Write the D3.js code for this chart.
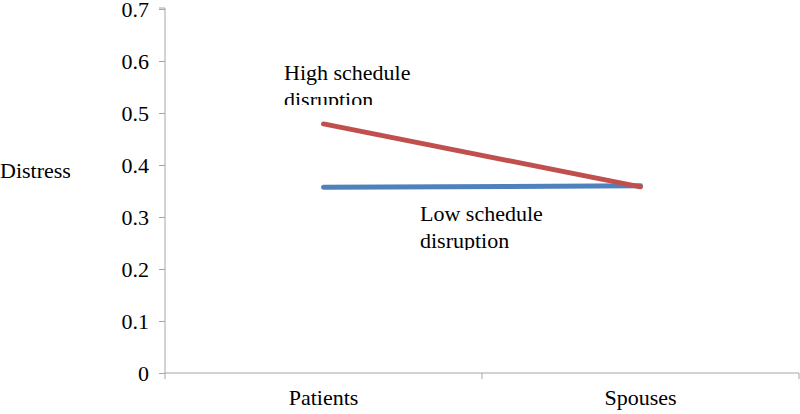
<!DOCTYPE html>
<html><head><meta charset="utf-8">
<script src="https://cdn.jsdelivr.net/npm/d3@7/dist/d3.min.js"></script>
<style>body{margin:0;background:#fff}svg{display:block}</style>
</head><body><svg id="c" width="800" height="414"></svg>
<script>
const categories = ["Patients", "Spouses"];
const seriesNames = ["High schedule disruption", "Low schedule disruption"];
const highValues = [0.479, 0.358];
const lowValues = [0.357, 0.360];
const yTicks = [0, 0.1, 0.2, 0.3, 0.4, 0.5, 0.6, 0.7];
const yTitle = "Distress";

(function () {
const FONT = "'Liberation Serif', Tinos, 'Times New Roman', 'DejaVu Serif', serif";
const svg = d3.select("#c");
const mLeft = 165, mRight = 799, mTop = 9, mBottom = 373;
const x = d3.scaleBand().domain(categories).range([mLeft, mRight]);
const y = d3.scaleLinear().domain([0, 0.7]).range([mBottom, mTop]);
const axisColor = "#a6a6a6";

// y axis
const ya = svg.append("g").attr("transform", `translate(${mLeft},0)`)
  .call(d3.axisLeft(y).tickValues(yTicks).tickSize(6).tickPadding(10).tickFormat(d => d === 0 ? "0" : d3.format(".1f")(d)));
ya.attr("font-family", null);
ya.select(".domain").attr("stroke", axisColor).attr("d", `M-6,${mTop - 1}H0V${mBottom}`);
ya.selectAll(".tick line").attr("stroke", axisColor);
ya.selectAll(".tick text").style("font-family", FONT).style("font-size", "22px").attr("fill", "#000").attr("dy", "0.33em");

// x axis
const xa = svg.append("g").attr("transform", `translate(0,${mBottom})`)
  .call(d3.axisBottom(x).tickSize(0).tickPadding(0));
xa.select(".domain").attr("stroke", axisColor).attr("d", `M${mLeft},0H${mRight}`);
xa.selectAll(".tick text").style("font-family", FONT).style("font-size", "22px").attr("fill", "#000").attr("y", 32).attr("dy", 0);
const bounds = [mLeft, ...categories.slice(1).map(c => x(c)), mRight];
svg.append("g").selectAll("line").data(bounds).join("line")
  .attr("x1", d => d).attr("x2", d => d).attr("y1", mBottom).attr("y2", mBottom + 6)
  .attr("stroke", axisColor);

// y title
svg.append("text").attr("x", 0).attr("y", 178).style("font-family", FONT).style("font-size", "22px").text(yTitle);

// lines
const cx = c => x(c) + x.bandwidth() / 2;
const line = d3.line().x((d, i) => cx(categories[i])).y(d => y(d));
svg.append("path").datum(lowValues).attr("d", line).attr("fill", "none")
  .attr("stroke", "#4F81BD").attr("stroke-width", 5).attr("stroke-linecap", "round");
svg.append("path").datum(highValues).attr("d", line).attr("fill", "none")
  .attr("stroke", "#C0504D").attr("stroke-width", 5).attr("stroke-linecap", "round");

// labels (clipped text boxes)
const defs = svg.append("defs");
function label(id, lines, x0, y0, clipTop, clipBottom) {
  defs.append("clipPath").attr("id", id).append("rect")
    .attr("x", x0 - 5).attr("y", clipTop).attr("width", 200).attr("height", clipBottom - clipTop);
  const g = svg.append("g").attr("clip-path", `url(#${id})`);
  const t = g.append("text").style("font-family", FONT).style("font-size", "22px");
  lines.forEach((s, i) => t.append("tspan").attr("x", x0).attr("y", y0 + i * 27).text(s));
}
label("clipHigh", ["High schedule", "disruption"], 284, 80, 55, 105);
label("clipLow", ["Low schedule", "disruption"], 420, 221, 195, 250);
})();
</script></body></html>
